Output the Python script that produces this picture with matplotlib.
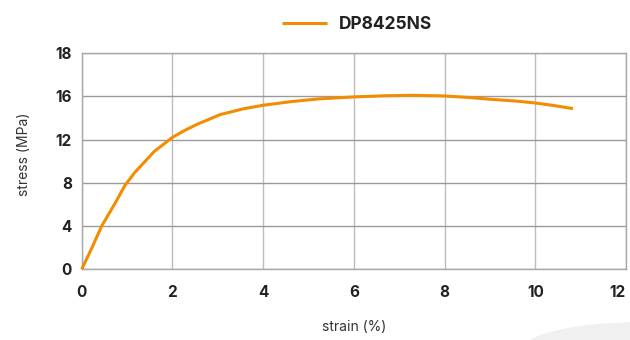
import matplotlib
matplotlib.use("Agg")
import matplotlib.pyplot as plt
from matplotlib.patches import Ellipse

# stress-strain curve
strain = [0, 0.22, 0.44, 0.735, 0.956, 1.18, 1.6, 2.0, 2.25, 2.54, 3.05, 3.57, 4.0,
          4.6, 5.2, 6.0, 6.7, 7.32, 8.0, 8.5, 9.09, 9.6, 10.0, 10.4, 10.83]
stress = [0, 1.94, 4.0, 6.1, 7.78, 9.0, 10.9, 12.2, 12.8, 13.4, 14.3, 14.85, 15.17,
          15.5, 15.75, 15.94, 16.05, 16.09, 16.03, 15.9, 15.7, 15.55, 15.38, 15.15, 14.86]
series_name = "DP8425NS"

x_ticks = [0, 2, 4, 6, 8, 10, 12]
y_tick_pos = [0, 4, 8, 12, 16, 20]
y_tick_labels = ["0", "4", "8", "12", "16", "18"]

orange = "#F28C00"

plt.rcParams["font.family"] = ["Inter", "DejaVu Sans"]

fig = plt.figure(figsize=(6.3, 3.4), dpi=100)
ax = fig.add_axes([0.1297, 0.208, 0.8640, 0.636])

# light decorative shape in the bottom right corner
fig.patches.append(Ellipse((1.016, -0.03), 0.375, 0.165, transform=fig.transFigure,
                           facecolor="#f0f0f0", edgecolor="none", zorder=0))

ax.plot(strain, stress, color=orange, lw=2.2, label=series_name,
        solid_capstyle="butt", solid_joinstyle="round", zorder=3, clip_on=False)

ax.set_xlim(0, 12)
ax.set_ylim(0, 20)
ax.set_xticks(x_ticks)
ax.set_xticklabels([str(v) for v in x_ticks])
ax.set_yticks(y_tick_pos)
ax.set_yticklabels(y_tick_labels)

ax.grid(True, axis="x", color="#bdbdbd", lw=1.0)
ax.grid(True, axis="y", color="#9a9a9a", lw=1.0)
ax.set_axisbelow(True)
for side in ["left", "bottom", "top", "right"]:
    ax.spines[side].set_color("#a8a8a8")
    ax.spines[side].set_linewidth(1.0)

ax.tick_params(length=0, labelsize=11, colors="#222222")
ax.tick_params(axis="x", pad=11)
ax.tick_params(axis="y", pad=7)
for lbl in ax.get_xticklabels() + ax.get_yticklabels():
    lbl.set_fontweight("bold")
ax.get_xticklabels()[-1].set_horizontalalignment("right")

ax.set_xlabel("strain (%)", fontsize=10, color="#333333", labelpad=15)
ax.set_ylabel("stress (MPa)", fontsize=10, color="#333333")
ax.yaxis.set_label_coords(-0.093, 0.53)

leg = fig.legend(loc="upper center", bbox_to_anchor=(0.567, 1.0), frameon=False,
                 handlelength=2.6, handletextpad=0.7,
                 prop={"weight": "bold", "size": 12.5})
for txt in leg.get_texts():
    txt.set_color("#222222")

fig.savefig("out.png", dpi=100)
